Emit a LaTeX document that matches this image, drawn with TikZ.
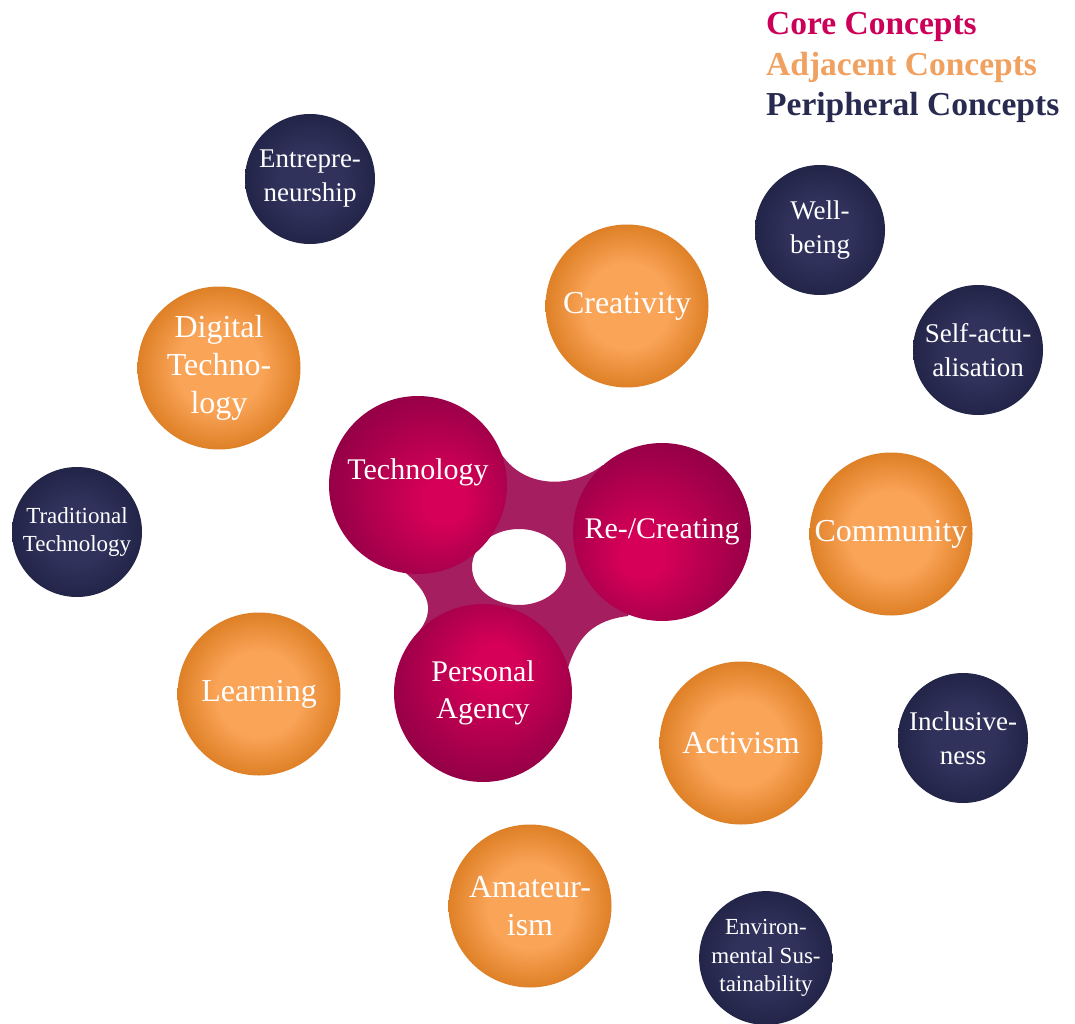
\documentclass[tikz,border=0pt]{standalone}
\usepackage{fontspec}
\setmainfont{Liberation Serif}
\definecolor{coreIn}{RGB}{214,0,88}
\definecolor{coreOut}{RGB}{140,0,68}
\definecolor{orIn}{RGB}{250,164,88}
\definecolor{orOut}{RGB}{222,128,38}
\definecolor{nvIn}{RGB}{48,50,92}
\definecolor{nvOut}{RGB}{34,36,72}
\definecolor{connCol}{RGB}{165,30,95}
\definecolor{legCore}{RGB}{204,0,88}
\definecolor{legAdj}{RGB}{240,160,95}
\definecolor{legPer}{RGB}{40,42,80}
\pgfdeclareradialshading{coreball}{\pgfpoint{0bp}{10bp}}{color(0bp)=(coreIn); color(6bp)=(coreIn); color(32bp)=(coreOut); color(50bp)=(coreOut)}
\pgfdeclareradialshading{orball}{\pgfpointorigin}{color(0bp)=(orIn); color(13bp)=(orIn); color(25bp)=(orOut); color(50bp)=(orOut)}
\pgfdeclareradialshading{navyball}{\pgfpointorigin}{color(0bp)=(nvIn); color(12bp)=(nvIn); color(25bp)=(nvOut); color(50bp)=(nvOut)}
\tikzset{
  corenode/.style={circle, inner sep=0pt, minimum size=178pt, shade, shading=coreball, text=white, align=center, font=\fontsize{30}{37}\selectfont},
  adjnode/.style={circle, inner sep=0pt, minimum size=163pt, shade, shading=orball, text=white, align=center, font=\fontsize{32}{38}\selectfont},
  pernode/.style={circle, inner sep=0pt, minimum size=130pt, shade, shading=navyball, text=white, align=center, font=\fontsize{27}{34}\selectfont},
  persmall/.style={pernode, font=\fontsize{23}{28.5}\selectfont},
  legend/.style={anchor=base west, inner sep=0pt, font=\bfseries\fontsize{33.5}{40}\selectfont}
}
\begin{document}
\begin{tikzpicture}[x=1pt,y=-1pt]
\fill[white] (0,0) rectangle (1075,1024);
\useasboundingbox (0,0) rectangle (1075,1024);
% core centres
\coordinate (ctech) at (418,485);
\coordinate (crecr) at (662,532);
\coordinate (cpa) at (483,693);
\coordinate (chole) at (519,567);
% connecting blob with hole
\path[fill=connCol, even odd rule]
  (ctech) -- (500,452) .. controls (522,488) and (570,490) .. (603,465)
  -- (crecr) -- (628,616) .. controls (595,620) and (578,635) .. (568,668)
  -- (cpa) -- (420,630) .. controls (440,603) and (420,583) .. (392,562)
  -- cycle
  (chole) ellipse [x radius=47pt, y radius=38pt];
% core concepts
\node[corenode, shading angle=-123] (tech) at (ctech) {\raisebox{6pt}[0pt][0pt]{Technology}};
\node[corenode, shading angle=140] (recr) at (crecr) {Re-/Creating};
\node[corenode, shading angle=-23] (pa) at (cpa) {Personal\\Agency};
% adjacent concepts
\node[adjnode] (creat) at (627,306) {Creativity};
\node[adjnode] (digi) at (219,368) {Digital\\Techno-\\logy};
\node[adjnode] (comm) at (891,534) {Community};
\node[adjnode] (learn) at (259,694) {Learning};
\node[adjnode] (act) at (741,743) {Activism};
\node[adjnode] (amat) at (530,906) {Amateur-\\ism};
% peripheral concepts
\node[pernode] (entre) at (310,179) {Entrepre-\\neurship};
\node[pernode] (well) at (820,230) {Well-\\being};
\node[pernode] (self) at (978,350) {Self-actu-\\alisation};
\node[persmall] (trad) at (77,532) {Traditional\\Technology};
\node[pernode] (incl) at (963,738) {Inclusive-\\ness};
\node[persmall] (env) at (766,958) {Environ-\\mental Sus-\\tainability};
% legend
\node[legend, text=legCore] (leg1) at (766,35) {Core Concepts};
\node[legend, text=legAdj] (leg2) at (766,76) {Adjacent Concepts};
\node[legend, text=legPer] (leg3) at (766,116) {Peripheral Concepts};
\end{tikzpicture}
\end{document}
